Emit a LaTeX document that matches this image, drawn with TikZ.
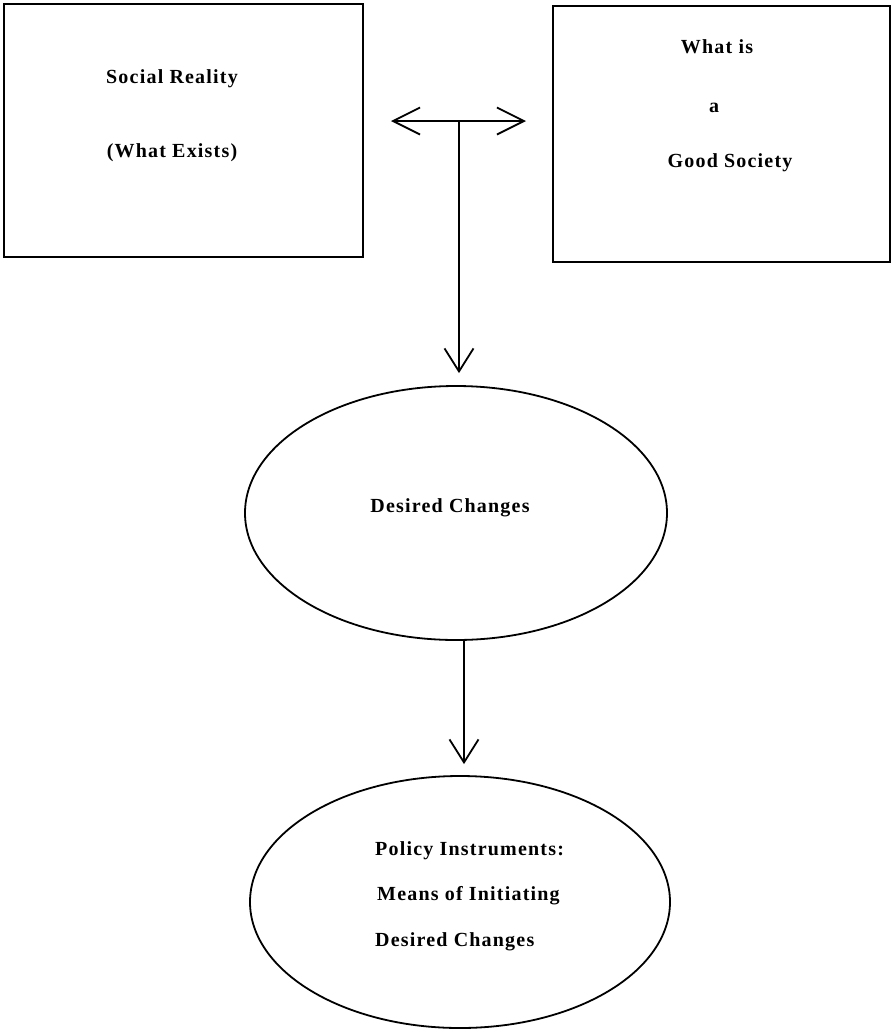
\documentclass[tikz,border=0pt]{standalone}
\usepackage{fontspec}
\setmainfont{Liberation Serif}[LetterSpace=6]
\usetikzlibrary{shapes.geometric,arrows.meta}
\begin{document}
\begin{tikzpicture}[x=1pt,y=-1pt,
  frame/.style={draw,line width=2pt,rectangle,inner sep=0pt},
  oval/.style={draw,line width=1.8pt,ellipse,inner sep=0pt},
  lbl/.style={inner sep=0pt,font=\fontsize{20}{24}\selectfont\bfseries},
  conn/.style={line width=1.8pt,-{Straight Barb[length=23pt,width=29pt,line width=1.8pt]}},
  dbl/.style={line width=1.8pt,{Straight Barb[length=27pt,width=27pt,line width=1.8pt]}-{Straight Barb[length=27pt,width=27pt,line width=1.8pt]}}]
\useasboundingbox (0,0) rectangle (893,1029);
% boxes
\node[frame,minimum width=359pt,minimum height=253pt] (sr) at (183.5,130.5) {};
\node[frame,minimum width=337pt,minimum height=256pt] (gs) at (721.5,134) {};
% box texts
\node[lbl,anchor=base] (sr1) at (172,83) {Social Reality};
\node[lbl,anchor=base] (sr2) at (172,157) {(What Exists)};
\node[lbl,anchor=base] (gs1) at (717,53) {What is};
\node[lbl,anchor=base] (gs2) at (714,112) {a};
\node[lbl,anchor=base] (gs3) at (730,167) {Good Society};
% ellipses
\node[oval,minimum width=422pt,minimum height=254pt] (dc) at (456,513) {};
\node[lbl,anchor=base] (dct) at (450,512) {Desired Changes};
\node[oval,minimum width=420pt,minimum height=252pt] (pi) at (460,902) {};
\node[lbl,anchor=base west] (pi1) at (375,855) {Policy Instruments:};
\node[lbl,anchor=base west] (pi2) at (377,900) {Means of Initiating};
\node[lbl,anchor=base west] (pi3) at (375,946) {Desired Changes};
% connectors
\coordinate (M) at (459,121);
\draw[dbl,shorten <=27pt,shorten >=26pt] (sr.east |- M) -- (gs.west |- M);
\draw[conn,shorten >=12pt] (M) -- (M |- dc.north);
\draw[conn,shorten >=11pt] (dc.south -| 464,0) -- (pi.north -| 464,0);
\end{tikzpicture}
\end{document}
